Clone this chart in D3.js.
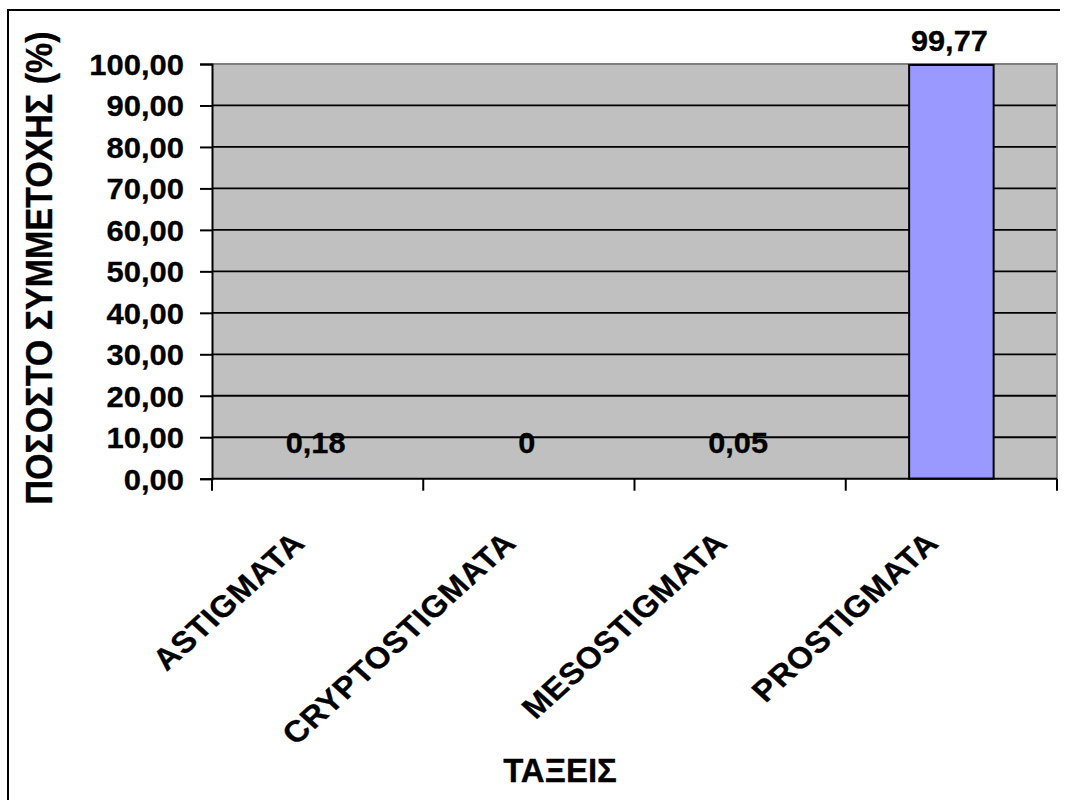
<!DOCTYPE html>
<html>
<head>
<meta charset="utf-8">
<script src="https://cdn.jsdelivr.net/npm/d3@7"></script>
<style>
  html, body { margin: 0; padding: 0; background: #ffffff; }
  svg { display: block; }
  text { font-family: "Liberation Sans", Arial, Helvetica, sans-serif; font-weight: bold; fill: #000; stroke: #000; stroke-width: 0.3px; }
</style>
</head>
<body>
<svg id="chart" width="1065" height="800"></svg>
<script>
// Mite orders and their share of the total catch (%)
const categories = ["ASTIGMATA", "CRYPTOSTIGMATA", "MESOSTIGMATA", "PROSTIGMATA"];
const values = [0.18, 0, 0.05, 99.77];
const valueLabels = ["0,18", "0", "0,05", "99,77"];
const yTicks = [0, 10, 20, 30, 40, 50, 60, 70, 80, 90, 100];
const yTitle = "ΠΟΣΟΣΤΟ ΣΥΜΜΕΤΟΧΗΣ (%)";
const xTitle = "ΤΑΞΕΙΣ";

const svg = d3.select("#chart");
const W = 1065, H = 800;
const plot = { left: 212, right: 1057, top: 64, bottom: 478.7 };

// Greek-style number formatting: comma as decimal separator
const locale = d3.formatLocale({ decimal: ",", thousands: ".", grouping: [3], currency: ["", " €"] });
const fmt = locale.format(".2f");

const x = d3.scaleBand().domain(categories).range([plot.left, plot.right]).padding(0);
const y = d3.scaleLinear().domain([0, 100]).range([plot.bottom, plot.top]);

// outer chart frame (top and left edges visible)
svg.append("line").attr("x1", 8).attr("x2", 1060).attr("y1", 10).attr("y2", 10)
  .attr("stroke", "#000").attr("stroke-width", 2);
svg.append("line").attr("x1", 8).attr("x2", 8).attr("y1", 9).attr("y2", H)
  .attr("stroke", "#000").attr("stroke-width", 2);

// plot background
svg.append("rect")
  .attr("x", plot.left).attr("y", plot.top)
  .attr("width", plot.right - plot.left).attr("height", plot.bottom - plot.top)
  .attr("fill", "#C0C0C0");

// horizontal gridlines
svg.append("g").selectAll("line")
  .data(yTicks.filter(t => t > 0 && t < 100))
  .join("line")
  .attr("x1", plot.left).attr("x2", plot.right)
  .attr("y1", d => y(d)).attr("y2", d => y(d))
  .attr("stroke", "#000").attr("stroke-width", 1.8);

// plot border (top and right)
svg.append("path")
  .attr("d", `M${plot.left},${plot.top}H${plot.right}V${plot.bottom}`)
  .attr("fill", "none").attr("stroke", "#808080").attr("stroke-width", 1.8);

// bars
const barW = x.step() * 0.4;
svg.append("g").selectAll("rect")
  .data(categories.map((c, i) => ({ c, v: values[i] })))
  .join("rect")
  .attr("x", d => x(d.c) + x.bandwidth() / 2 - barW / 2)
  .attr("width", barW)
  .attr("y", d => y(d.v))
  .attr("height", d => y(0) - y(d.v))
  .attr("fill", "#9999FF")
  .attr("stroke", d => d.v > 0.5 ? "#000" : "none")
  .attr("stroke-width", 2);

// y axis
const yAxis = svg.append("g")
  .attr("transform", `translate(${plot.left},0)`)
  .call(d3.axisLeft(y).tickValues(yTicks).tickSize(12).tickFormat(fmt));
yAxis.select(".domain").attr("stroke", "#000").attr("stroke-width", 2);
yAxis.selectAll(".tick line").attr("stroke", "#000").attr("stroke-width", 2);
yAxis.selectAll(".tick text")
  .attr("x", 0).attr("dy", null)
  .attr("font-size", 29.5)
  .attr("text-anchor", "end")
  .attr("transform", "translate(-28,10.5) scale(1.05,1)");

// x axis baseline and tick marks at category boundaries
const xAxis = svg.append("g")
  .attr("transform", `translate(0,${plot.bottom})`)
  .call(d3.axisBottom(x).tickSize(0).tickFormat(""));
xAxis.select(".domain").remove();
svg.append("line")
  .attr("x1", plot.left).attr("x2", plot.right)
  .attr("y1", plot.bottom).attr("y2", plot.bottom)
  .attr("stroke", "#000").attr("stroke-width", 2);
const bounds = d3.range(categories.length + 1).map(i => plot.left + i * x.step());
svg.append("g").selectAll("line")
  .data(bounds)
  .join("line")
  .attr("x1", d => d).attr("x2", d => d)
  .attr("y1", plot.bottom).attr("y2", plot.bottom + 12)
  .attr("stroke", "#000").attr("stroke-width", 2);

// rotated category labels
xAxis.selectAll(".tick text")
  .text(d => d)
  .attr("y", 0).attr("dy", null)
  .attr("font-size", 30)
  .attr("letter-spacing", 0.7)
  .attr("text-anchor", "end")
  .attr("transform", "translate(-11,66) scale(1.1,1) rotate(-45)");

// value labels
svg.append("g").selectAll("text")
  .data(categories.map((c, i) => ({ c, v: values[i], t: valueLabels[i] })))
  .join("text")
  .attr("font-size", 29)
  .attr("text-anchor", "middle")
  .attr("transform", d => {
    const cx = x(d.c) + x.bandwidth() / 2 - 2;
    const cy = Math.min(y(d.v) - 14, y(0) - 26);
    return `translate(${cx},${cy}) scale(1.06,1)`;
  })
  .text(d => d.t);

// axis titles
svg.append("text")
  .attr("font-size", 34)
  .attr("text-anchor", "middle")
  .attr("transform", "translate(52,268) scale(1.1,1) rotate(-90)")
  .text(yTitle);

svg.append("text")
  .attr("font-size", 33)
  .attr("text-anchor", "middle")
  .attr("transform", "translate(560,782)")
  .text(xTitle);
</script>
</body>
</html>
